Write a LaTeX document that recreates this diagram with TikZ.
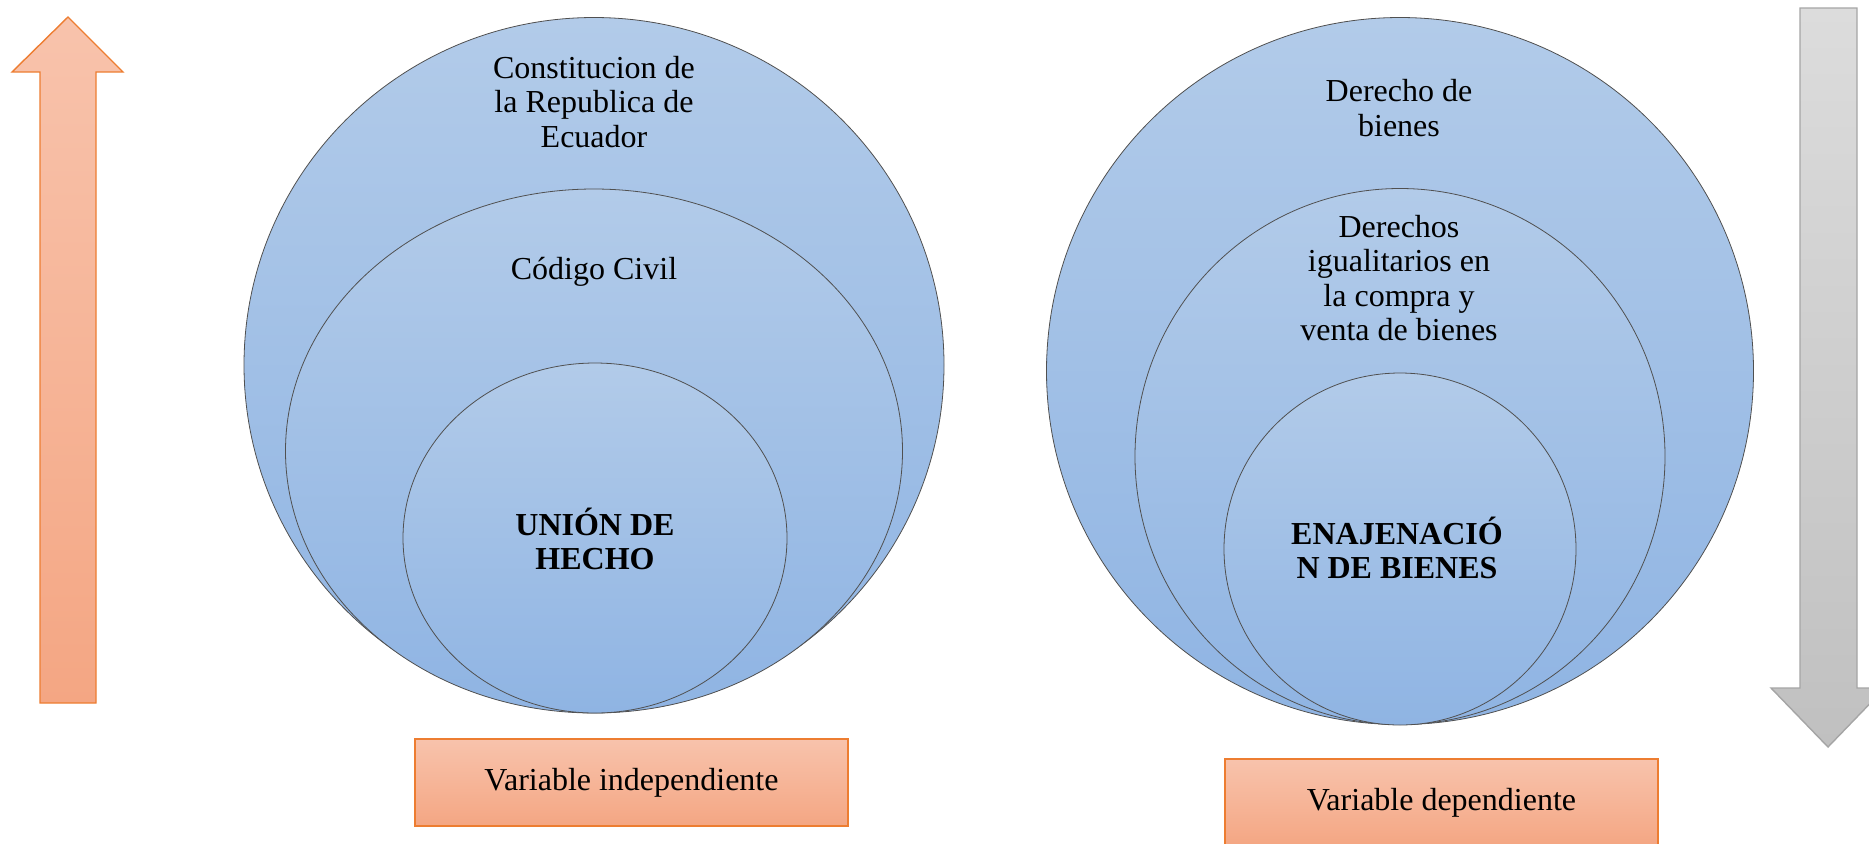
\documentclass[tikz,border=0pt]{standalone}
\usepackage{fontspec}
\setmainfont{Liberation Serif}
\usetikzlibrary{shapes.geometric}
\definecolor{bluetop}{RGB}{178,203,233}
\definecolor{bluebot}{RGB}{143,180,227}
\definecolor{circline}{RGB}{80,80,80}
\definecolor{orgtop}{RGB}{248,195,172}
\definecolor{orgbot}{RGB}{244,166,131}
\definecolor{orgline}{RGB}{237,125,49}
\definecolor{graytop}{RGB}{220,220,220}
\definecolor{graybot}{RGB}{192,192,192}
\definecolor{grayline}{RGB}{165,165,165}
\tikzset{
  ring/.style={ellipse, draw=circline, line width=0.4pt, top color=bluetop, bottom color=bluebot, inner sep=0pt, outer sep=0pt},
  lbl/.style={align=center, font=\fontsize{16}{17.3}\selectfont, inner sep=0pt},
  boldlbl/.style={align=center, font=\fontsize{16}{17.3}\selectfont\bfseries, inner sep=0pt},
  varbox/.style={rectangle, draw=orgline, line width=0.6pt, top color=orgtop, bottom color=orgbot, minimum width=216.5pt, minimum height=43.5pt, inner sep=0pt, font=\fontsize{16}{17.3}\selectfont},
  uparrow/.style={draw=orgline, line width=0.7pt, top color=orgtop, bottom color=orgbot},
  downarrow/.style={draw=grayline, line width=0.7pt, top color=graytop, bottom color=graybot}
}
\begin{document}
\begin{tikzpicture}[x=0.5pt,y=-0.5pt]
\useasboundingbox (0,0) rectangle (1869,843);
\clip (0,0) rectangle (1869,843);
% arrows
\shade[uparrow] (68,17) -- (123,72) -- (96,72) -- (96,703) -- (40,703) -- (40,72) -- (12,72) -- cycle;
\shade[downarrow] (1800,8) -- (1857,8) -- (1857,688) -- (1885,688) -- (1828,747) -- (1771,688) -- (1800,688) -- cycle;
% left group
\node[ring, minimum width=350pt, minimum height=347.5pt] (LO) at (594,365) {};
\node[ring, minimum width=308.5pt, minimum height=262pt] (LM) at (594,451) {};
\node[ring, minimum width=192pt, minimum height=175pt] (LI) at (595,538) {};
\node[lbl] (t1) at (594,102) {Constitucion de\\la Republica de\\Ecuador};
\node[lbl] (t2) at (594,272) {Código Civil};
\node[boldlbl] (t3) at (595,539) {UNIÓN DE\\HECHO};
% right group
\node[ring, minimum width=353.5pt, minimum height=353.5pt] (RO) at (1400,371) {};
\node[ring, minimum width=265pt, minimum height=268pt] (RM) at (1400,456.5) {};
\node[ring, minimum width=176pt, minimum height=176pt] (RI) at (1400,549) {};
\node[lbl] (t4) at (1399,108) {Derecho de\\bienes};
\node[lbl] (t5) at (1399,278) {Derechos\\igualitarios en\\la compra y\\venta de bienes};
\node[boldlbl] (t6) at (1397,548) {ENAJENACIÓ\\N DE BIENES};
% boxes
\node[varbox] (B1) at (631.5,782.5) {Variable independiente};
\node[varbox] (B2) at (1441.5,802.5) {Variable dependiente};
\end{tikzpicture}
\end{document}
